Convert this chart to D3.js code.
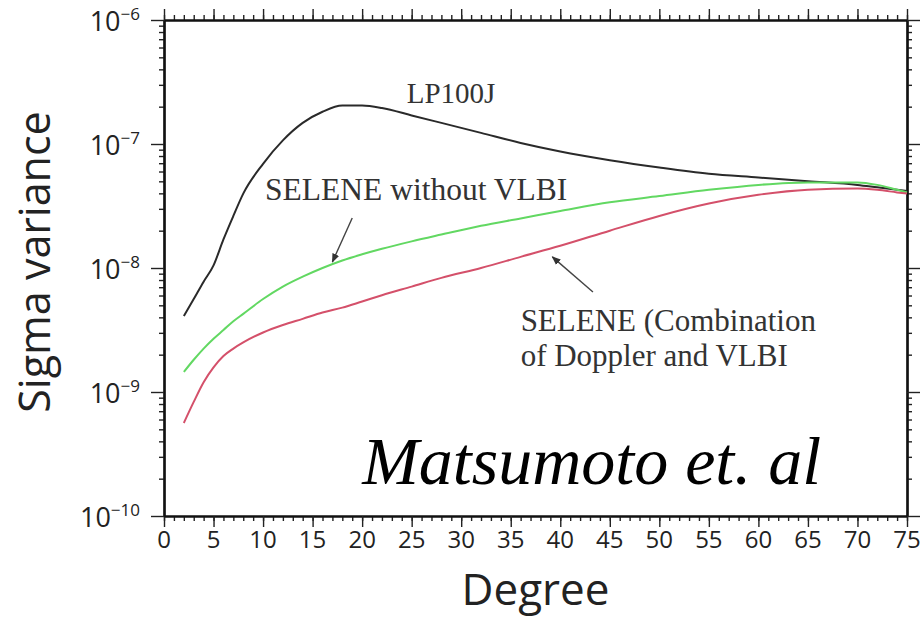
<!DOCTYPE html>
<html>
<head>
<meta charset="utf-8">
<script src="https://cdn.jsdelivr.net/npm/d3@7"></script>
<style>
  body { margin: 0; background: #fff; }
  svg { display: block; }
</style>
</head>
<body>
<div id="app"></div>
<script>
// spherical harmonic degree
const degrees = [2,3,4,5,6,7,8,10,12,14,16,18,20,22,25,28,32,36,40,45,50,55,60,65,70,72,74,75];

const lp100j = [4.10e-9,5.62e-9,7.76e-9,1.05e-8,1.70e-8,2.63e-8,3.98e-8,6.92e-8,1.07e-7,1.48e-7,
  1.82e-7,2.04e-7,2.04e-7,1.95e-7,1.70e-7,1.48e-7,1.23e-7,1.02e-7,8.71e-8,7.41e-8,
  6.46e-8,5.75e-8,5.37e-8,5.01e-8,4.68e-8,4.47e-8,4.27e-8,4.17e-8];

const seleneNoVlbi = [1.45e-9,1.82e-9,2.24e-9,2.69e-9,3.16e-9,3.72e-9,4.27e-9,5.62e-9,7.08e-9,8.51e-9,
  1.00e-8,1.15e-8,1.29e-8,1.43e-8,1.64e-8,1.86e-8,2.19e-8,2.51e-8,2.88e-8,3.39e-8,
  3.80e-8,4.27e-8,4.68e-8,4.90e-8,4.90e-8,4.68e-8,4.27e-8,4.07e-8];

const seleneVlbi = [5.62e-10,8.32e-10,1.20e-9,1.58e-9,1.95e-9,2.24e-9,2.51e-9,3.02e-9,3.47e-9,3.89e-9,
  4.37e-9,4.79e-9,5.37e-9,6.03e-9,7.08e-9,8.32e-9,1.00e-8,1.23e-8,1.51e-8,2.00e-8,
  2.63e-8,3.31e-8,3.89e-8,4.27e-8,4.37e-8,4.27e-8,4.07e-8,3.98e-8];

const xTicks = [0,5,10,15,20,25,30,35,40,45,50,55,60,65,70,75];
const yExponents = [-6,-7,-8,-9,-10];

let width = 924;
let height = 625;
let margin = {top: 20, right: 17, bottom: 109, left: 164};

const sansFont = "'Open Sans', 'Noto Sans', sans-serif";
const serifFont = "'Liberation Serif', 'Times New Roman', serif";

let svg = d3.select("#app")
  .append("svg")
  .attr("width", width)
  .attr("height", height);

const x = d3.scaleLinear()
  .domain([0, 75])
  .range([margin.left, width - margin.right]);

const y = d3.scaleLog()
  .domain([1e-10, 1e-6])
  .range([height - margin.bottom, margin.top]);

const majorY = yExponents.map(e => Math.pow(10, e));
let minorY = [];
for (let e = -10; e < -6; e++) {
  for (let m = 2; m <= 9; m++) minorY.push(m * Math.pow(10, e));
}
const minorX = d3.range(0, 76);

// axes: minor + major ticks on all four sides, all pointing outward
function drawAxis(axisFn, scale, values, size, transform) {
  svg.append("g")
    .attr("transform", transform)
    .call(axisFn(scale).tickValues(values).tickSize(size).tickSizeOuter(0).tickFormat(""))
    .call(g => g.select(".domain").attr("stroke-width", 2.2).attr("stroke", "#111"))
    .call(g => g.selectAll(".tick line").attr("stroke-width", 1.4).attr("stroke", "#222"));
}

const bottomY = height - margin.bottom;
const rightX = width - margin.right;

drawAxis(d3.axisBottom, x, minorX, 5, `translate(0,${bottomY})`);
drawAxis(d3.axisBottom, x, xTicks, 11, `translate(0,${bottomY})`);
drawAxis(d3.axisTop, x, minorX, 5, `translate(0,${margin.top})`);
drawAxis(d3.axisTop, x, xTicks, 11, `translate(0,${margin.top})`);
drawAxis(d3.axisLeft, y, minorY, 5, `translate(${margin.left},0)`);
drawAxis(d3.axisLeft, y, majorY, 13, `translate(${margin.left},0)`);
drawAxis(d3.axisRight, y, minorY, 5, `translate(${rightX},0)`);
drawAxis(d3.axisRight, y, majorY, 13, `translate(${rightX},0)`);

// x tick labels
svg.append("g")
  .selectAll("text")
  .data(xTicks)
  .join("text")
  .attr("x", d => x(d))
  .attr("y", bottomY + 32)
  .attr("text-anchor", "middle")
  .attr("font-family", sansFont)
  .attr("font-size", 24)
  .attr("fill", "#222")
  .text(d => d);

// y tick labels with superscript exponent
let yLab = svg.append("g")
  .selectAll("text")
  .data(yExponents)
  .join("text")
  .attr("x", margin.left - 24)
  .attr("y", d => y(Math.pow(10, d)) + 11)
  .attr("text-anchor", "end")
  .attr("font-family", sansFont)
  .attr("font-size", 27)
  .attr("fill", "#222");
yLab.append("tspan").text("10");
yLab.append("tspan")
  .attr("dy", -11)
  .attr("font-size", 17)
  .text(d => "\u2212" + Math.abs(d));

// axis titles
svg.append("text")
  .attr("x", (margin.left + rightX) / 2)
  .attr("y", 605)
  .attr("text-anchor", "middle")
  .attr("font-family", sansFont)
  .attr("font-size", 44)
  .attr("fill", "#222")
  .text("Degree");

svg.append("text")
  .attr("transform", `translate(50,${(margin.top + bottomY) / 2 - 6}) rotate(-90)`)
  .attr("text-anchor", "middle")
  .attr("font-family", sansFont)
  .attr("font-size", 43)
  .attr("fill", "#222")
  .text("Sigma variance");

// curves
const series = [
  {name: "LP100J", values: lp100j, color: "#2a2a2a"},
  {name: "SELENE without VLBI", values: seleneNoVlbi, color: "#62d862"},
  {name: "SELENE with VLBI", values: seleneVlbi, color: "#d4506a"}
];

const line = d3.line()
  .x(d => x(d[0]))
  .y(d => y(d[1]))
  .curve(d3.curveMonotoneX);

svg.append("g")
  .selectAll("path")
  .data(series)
  .join("path")
  .attr("fill", "none")
  .attr("stroke", d => d.color)
  .attr("stroke-width", 2)
  .attr("d", d => line(degrees.map((deg, i) => [deg, d.values[i]])));

// annotations (placed in data coordinates)
const labels = [
  {text: "LP100J", deg: 24.5, val: 2.14e-7, size: 29, italic: false},
  {text: "SELENE without VLBI", deg: 10.2, val: 3.53e-8, size: 31.5, italic: false},
  {text: "SELENE (Combination", deg: 36.0, val: 3.1e-9, size: 31, italic: false},
  {text: "of Doppler and VLBI", deg: 36.0, val: 1.62e-9, size: 31, italic: false},
  {text: "Matsumoto et. al", deg: 20.0, val: 1.81e-10, size: 68, italic: true}
];

svg.append("g")
  .selectAll("text")
  .data(labels)
  .join("text")
  .attr("x", d => x(d.deg))
  .attr("y", d => y(d.val))
  .attr("font-family", serifFont)
  .attr("font-size", d => d.size)
  .attr("font-style", d => d.italic ? "italic" : "normal")
  .attr("fill", d => d.italic ? "#000" : "#333")
  .text(d => d.text);

const arrows = [
  {from: [19.0, 2.53e-8], to: [17.0, 1.12e-8]},
  {from: [43.3, 6.4e-9], to: [39.2, 1.23e-8]}
];

svg.append("defs")
  .append("marker")
  .attr("id", "head")
  .attr("viewBox", "0 0 10 10")
  .attr("refX", 9)
  .attr("refY", 5)
  .attr("markerWidth", 9)
  .attr("markerHeight", 9)
  .attr("markerUnits", "userSpaceOnUse")
  .attr("orient", "auto")
  .append("path")
  .attr("d", "M0,1 L10,5 L0,9 Z")
  .attr("fill", "#333");

svg.append("g")
  .selectAll("line")
  .data(arrows)
  .join("line")
  .attr("x1", d => x(d.from[0]))
  .attr("y1", d => y(d.from[1]))
  .attr("x2", d => x(d.to[0]))
  .attr("y2", d => y(d.to[1]))
  .attr("stroke", "#444")
  .attr("stroke-width", 1.4)
  .attr("marker-end", "url(#head)");
</script>
</body>
</html>
